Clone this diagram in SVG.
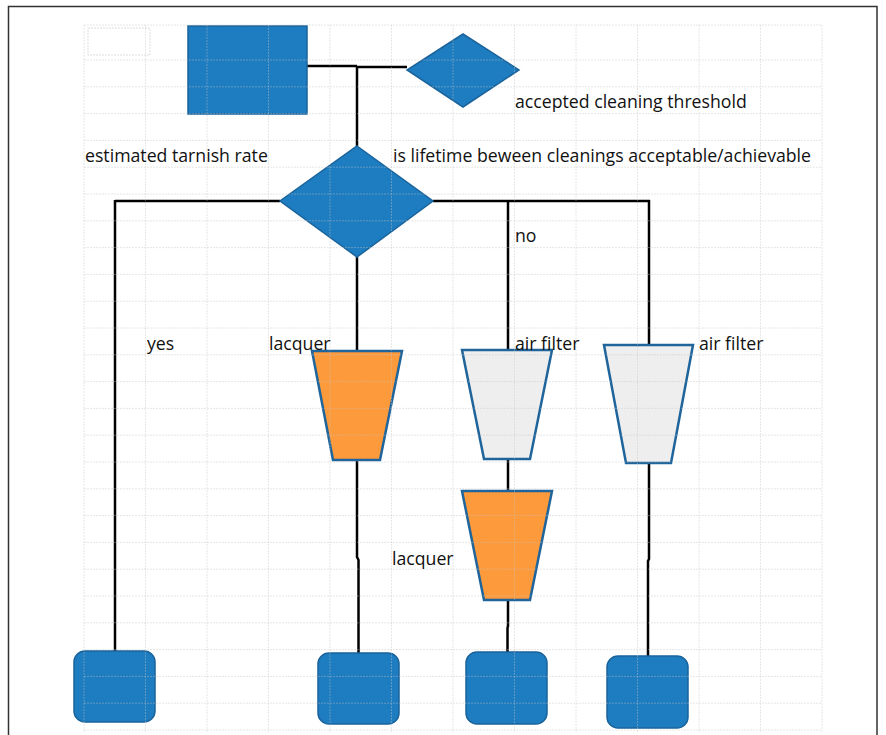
<svg xmlns="http://www.w3.org/2000/svg" width="886" height="735" viewBox="0 0 886 735">
  <style>
    .frame { fill: #ffffff; stroke: #333333; stroke-width: 1.5; }
    .grid line { stroke: #c4c4c4; stroke-width: 1; stroke-dasharray: 2 1; opacity: 0.4; }
    .blue { fill: #1e7dc1; stroke: #1a639b; stroke-width: 1.5; }
    .lacquer { fill: #fd9a3c; stroke: #1f659b; stroke-width: 2.5; }
    .filter { fill: #eeeeee; stroke: #1f659b; stroke-width: 2.5; }
    .wire { fill: none; stroke: #000000; stroke-width: 2.5; }
    .label { font-family: "Open Sans", "Liberation Sans", sans-serif; font-size: 17.7px; fill: #111111; }
  </style>

  <!-- page frame -->
  <rect class="frame" x="8.5" y="6.5" width="868.5" height="740"/>

  <!-- connectors -->
  <g id="connectors">
    <path class="wire" d="M307 66 H357 M357 67 H407"/>
    <path class="wire" d="M357 66 V146"/>
    <path class="wire" d="M115 201 H280 M433 201 H650"/>
    <path class="wire" d="M115 200 V651"/>
    <path class="wire" d="M357 257 V351"/>
    <path class="wire" d="M357 460 V557 L358.5 560 V653"/>
    <path class="wire" d="M508 200 V350"/>
    <path class="wire" d="M508 459 V491"/>
    <path class="wire" d="M508 600 V626 L507.5 628 V652"/>
    <path class="wire" d="M649 200 V345"/>
    <path class="wire" d="M649 463 V559 L648 561 V656"/>
  </g>

  <!-- nodes -->
  <g id="source">
    <rect class="blue" x="188" y="26" width="119" height="88"/>
  </g>
  <g id="threshold">
    <polygon class="blue" points="463,34 519,70 463,107 407,70"/>
  </g>
  <g id="decision">
    <polygon class="blue" points="357,146 433,201 357,257 280,201"/>
  </g>
  <g id="lacquer-a">
    <polygon class="lacquer" points="312,351 402,351 380,460 333,460"/>
  </g>
  <g id="filter-a">
    <polygon class="filter" points="462,350 552,350 530,459 484,459"/>
  </g>
  <g id="lacquer-b">
    <polygon class="lacquer" points="462,491 552,491 530,600 484,600"/>
  </g>
  <g id="filter-b">
    <polygon class="filter" points="604,345 693,345 671,463 626,463"/>
  </g>
  <g id="end-yes">
    <rect class="blue" x="74" y="651" width="81" height="71" rx="11"/>
  </g>
  <g id="end-lacquer">
    <rect class="blue" x="318" y="653" width="81" height="71" rx="11"/>
  </g>
  <g id="end-filter-lacquer">
    <rect class="blue" x="466" y="652" width="81" height="72" rx="11"/>
  </g>
  <g id="end-filter">
    <rect class="blue" x="607" y="656" width="81" height="72" rx="11"/>
  </g>

  <!-- background grid, drawn over the shapes -->
  <g class="grid">
    <rect x="88" y="28" width="62" height="27" fill="none" stroke="#dddddd" stroke-width="1" stroke-dasharray="2 1"/>
    <line x1="84" y1="25" x2="822" y2="25"/>
    <line x1="84" y1="60" x2="822" y2="60"/>
    <line x1="84" y1="86.8" x2="822" y2="86.8"/>
    <line x1="84" y1="113.6" x2="822" y2="113.6"/>
    <line x1="84" y1="140.4" x2="822" y2="140.4"/>
    <line x1="84" y1="167.2" x2="822" y2="167.2"/>
    <line x1="84" y1="194" x2="822" y2="194"/>
    <line x1="84" y1="220.8" x2="822" y2="220.8"/>
    <line x1="84" y1="247.6" x2="822" y2="247.6"/>
    <line x1="84" y1="274.4" x2="822" y2="274.4"/>
    <line x1="84" y1="301.2" x2="822" y2="301.2"/>
    <line x1="84" y1="328" x2="822" y2="328"/>
    <line x1="84" y1="354.8" x2="822" y2="354.8"/>
    <line x1="84" y1="381.6" x2="822" y2="381.6"/>
    <line x1="84" y1="408.4" x2="822" y2="408.4"/>
    <line x1="84" y1="435.2" x2="822" y2="435.2"/>
    <line x1="84" y1="462" x2="822" y2="462"/>
    <line x1="84" y1="488.8" x2="822" y2="488.8"/>
    <line x1="84" y1="515.6" x2="822" y2="515.6"/>
    <line x1="84" y1="542.4" x2="822" y2="542.4"/>
    <line x1="84" y1="569.2" x2="822" y2="569.2"/>
    <line x1="84" y1="596" x2="822" y2="596"/>
    <line x1="84" y1="622.8" x2="822" y2="622.8"/>
    <line x1="84" y1="649.6" x2="822" y2="649.6"/>
    <line x1="84" y1="676.4" x2="822" y2="676.4"/>
    <line x1="84" y1="703.2" x2="822" y2="703.2"/>
    <line x1="84" y1="730" x2="822" y2="730"/>
    <line x1="84" y1="25" x2="84" y2="732"/>
    <line x1="145.5" y1="25" x2="145.5" y2="732"/>
    <line x1="207" y1="25" x2="207" y2="732"/>
    <line x1="268.5" y1="25" x2="268.5" y2="732"/>
    <line x1="330" y1="25" x2="330" y2="732"/>
    <line x1="391.5" y1="25" x2="391.5" y2="732"/>
    <line x1="453" y1="25" x2="453" y2="732"/>
    <line x1="514.5" y1="25" x2="514.5" y2="732"/>
    <line x1="576" y1="25" x2="576" y2="732"/>
    <line x1="637.5" y1="25" x2="637.5" y2="732"/>
    <line x1="699" y1="25" x2="699" y2="732"/>
    <line x1="760.5" y1="25" x2="760.5" y2="732"/>
    <line x1="822" y1="25" x2="822" y2="732"/>
  </g>

  <!-- labels -->
  <g id="labels">
    <text class="label" x="515" y="108">accepted cleaning threshold</text>
    <text class="label" x="85" y="162">estimated tarnish rate</text>
    <text class="label" x="393" y="162">is lifetime beween cleanings acceptable/achievable</text>
    <text class="label" x="515" y="242">no</text>
    <text class="label" x="147" y="350">yes</text>
    <text class="label" x="269" y="350">lacquer</text>
    <text class="label" x="515" y="350">air filter</text>
    <text class="label" x="699" y="350">air filter</text>
    <text class="label" x="392" y="565">lacquer</text>
  </g>
</svg>
